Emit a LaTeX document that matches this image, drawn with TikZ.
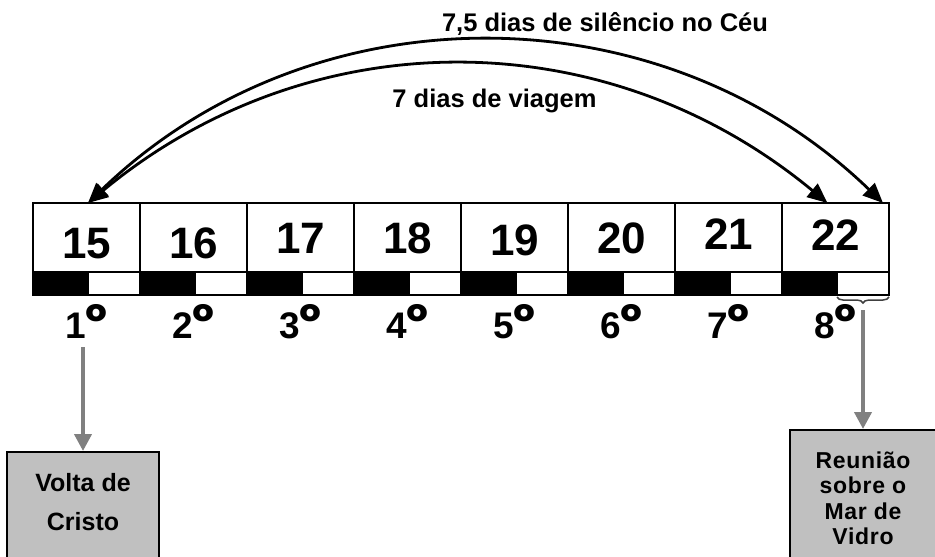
\documentclass[tikz,border=0pt]{standalone}
\usepackage{fontspec}
\setmainfont{Liberation Sans}
\newfontfamily\spacedsans[LetterSpace=3]{Liberation Sans}
\newfontfamily\ordfont{Poppins}
\usetikzlibrary{positioning, arrows.meta, decorations.pathreplacing}
\definecolor{Ink}{HTML}{000000}
\definecolor{BoxGray}{HTML}{C0C0C0}
\definecolor{ArrowGray}{HTML}{808080}
\definecolor{BraceGray}{HTML}{404040}
\newcommand{\ordsign}{{\ordfont\bfseries\fontsize{48}{48}\selectfont º}}
\tikzset{
    daycell/.style={rectangle, draw=Ink, line width=1.6pt, minimum width=107pt, minimum height=69pt, inner sep=0pt, outer sep=0pt},
    darkhalf/.style={rectangle, draw=Ink, fill=Ink, line width=1.6pt, minimum width=55pt, minimum height=23pt, inner sep=0pt, outer sep=0pt},
    lighthalf/.style={rectangle, draw=Ink, fill=white, line width=1.6pt, minimum width=52pt, minimum height=23pt, inner sep=0pt, outer sep=0pt},
    daynum/.style={font=\bfseries\fontsize{44}{50}\selectfont, inner sep=0pt, anchor=base},
    ordnum/.style={font=\bfseries\fontsize{37}{44}\selectfont, inner sep=0pt, anchor=base},
    arclabel/.style={font=\bfseries\fontsize{25.5}{30}\selectfont, inner sep=0pt, anchor=base},
    dayarc/.style={{Triangle[length=20pt, width=17pt]}-{Triangle[length=20pt, width=17pt]}, line width=2.8pt, color=Ink},
    grayarrow/.style={-{Triangle[length=17pt, width=17pt]}, line width=4pt, color=ArrowGray},
    eventbox/.style={rectangle, draw=Ink, fill=BoxGray, line width=1.6pt, align=center, anchor=north, inner xsep=0pt, inner ysep=22pt, text depth=80pt},
    bracemark/.style={decorate, decoration={brace, mirror, amplitude=6pt, raise=2pt}, line width=1.5pt, color=BraceGray},
}

\begin{document}
\begin{tikzpicture}[x=1pt, y=-1pt]
    \useasboundingbox (0,0) rectangle (935,557);

    % Dias 15 a 22, cada um com a faixa noite/dia
    \foreach \n/\by [count=\pos] in {15/258, 16/258, 17/253, 18/253, 19/255, 20/253, 21/249, 22/250} {
        \node[daycell] (c\n) at ({86.5+107*(\pos-1)}, 237.5) {};
        \node[darkhalf, anchor=north west] (b\n) at (c\n.south west) {};
        \node[lighthalf, anchor=north east] (w\n) at (c\n.south east) {};
        \node[daynum] (n\n) at (c\n.center |- 0,\by) {\n};
        \node[ordnum] (o\n) at (c\n.center |- 0,338) {\pos\ordsign};
    }

    % Arcos de cima
    \coordinate (leftend) at ([xshift=1.5pt]c15.north);
    \coordinate (innerend) at ([xshift=-8pt]c22.north);
    \coordinate (outerend) at ([xshift=-6pt]c22.north east);
    \draw[dayarc] (leftend) to[bend left=44] (outerend);
    \draw[dayarc] (leftend) to[bend left=39.6] (innerend);
    \node[arclabel] (silence) at (605,31) {7,5 dias de silêncio no Céu};
    \node[arclabel] (journey) at (494.5,107) {7 dias de viagem};

    % Caixas de baixo
    \node[eventbox, minimum width=152pt, font=\bfseries\fontsize{25}{39}\selectfont] (volta) at (83,451) {Volta de\\Cristo};
    \node[eventbox, minimum width=146pt, font=\spacedsans\bfseries\fontsize{23}{25.5}\selectfont] (reuniao) at (863,429) {Reunião\\sobre o\\Mar de\\Vidro};

    \draw[bracemark] (w22.south west) -- (w22.south east);
    \coordinate (bracetip) at ([yshift=-10pt]w22.south);
    \draw[grayarrow] (volta.north |- 0,347) -- (volta.north);
    \draw[grayarrow] ([yshift=-5pt]bracetip) -- (reuniao.north);
\end{tikzpicture}
\end{document}
